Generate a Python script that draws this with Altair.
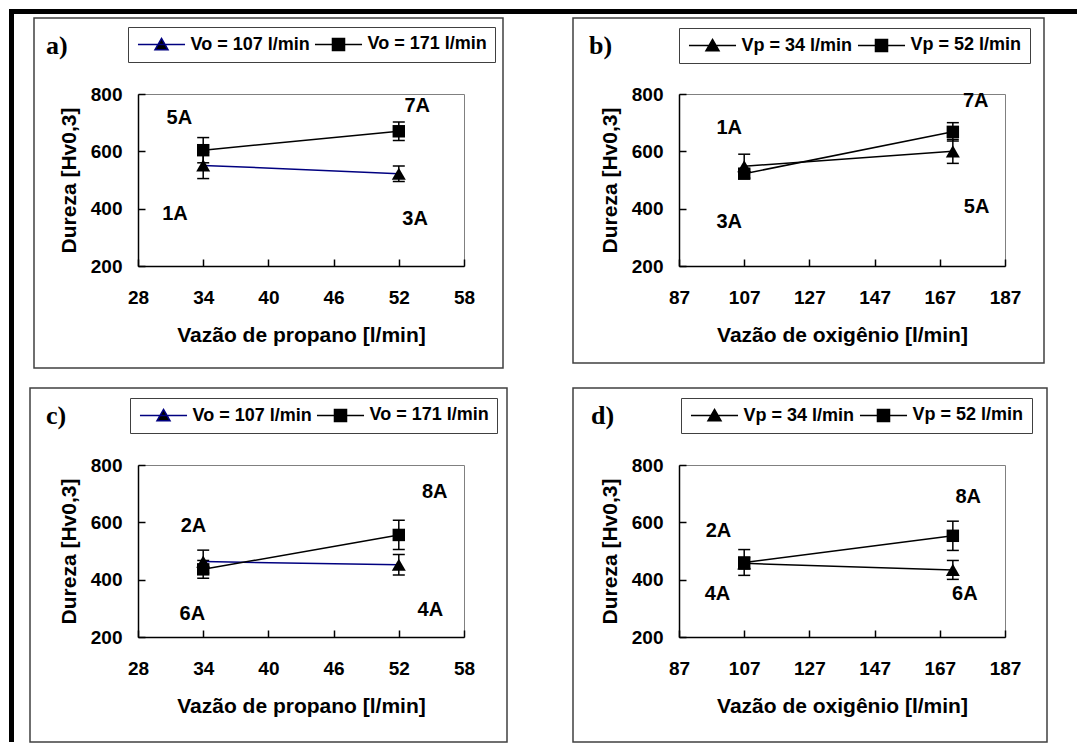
import altair as alt
import pandas as pd

FONT = "Liberation Sans"
SERIF = "Liberation Serif"
W, H = 326, 172

# ---------------- data ----------------
propane_ticks = [28, 34, 40, 46, 52, 58]
oxygen_ticks = [87, 107, 127, 147, 167, 187]
y_ticks = [200, 400, 600, 800]

vo_names = ["Vo = 107 l/min", "Vo = 171 l/min"]
vo_colors = ["#000080", "#000000"]
vp_names = ["Vp = 34 l/min", "Vp = 52 l/min"]
vp_colors = ["#000000", "#000000"]

# panel a
a_x = [34, 52]
a_s1 = [551, 522]
a_s1_err = [46, 27]
a_s2 = [604, 670]
a_s2_err = [44, 32]
a_lab = ["5A", "7A", "1A", "3A"]
a_lab_x = [31.8, 53.7, 31.4, 53.5]
a_lab_y = [716, 757, 382, 364]

# panel b
b_x = [107, 171]
b_s1 = [548, 600]
b_s1_err = [42, 42]
b_s2 = [522, 668]
b_s2_err = [15, 32]
b_lab = ["1A", "3A", "7A", "5A"]
b_lab_x = [102.4, 102.4, 178.0, 178.3]
b_lab_y = [683, 355, 774, 405]

# panel c
c_x = [34, 52]
c_s1 = [463, 452]
c_s1_err = [40, 36]
c_s2 = [436, 556]
c_s2_err = [31, 51]
c_lab = ["2A", "6A", "8A", "4A"]
c_lab_x = [33.1, 33.0, 55.3, 54.9]
c_lab_y = [587, 281, 705, 295]

# panel d
d_x = [107, 171]
d_s1 = [457, 434]
d_s1_err = [20, 33]
d_s2 = [460, 553]
d_s2_err = [45, 51]
d_lab = ["2A", "4A", "8A", "6A"]
d_lab_x = [99.1, 98.8, 175.7, 174.7]
d_lab_y = [569, 349, 689, 349]

TRI_LEG = "M-3.36,0H3.36M0,-0.86L0.93,0.75L-0.93,0.75Z"
SQ_LEG = "M-3.36,0H3.36M-0.86,-0.86H0.86V0.86H-0.86Z"


def panel(tag, tagpos, xs, s1, e1, s2, e2, names, colors, labs, lx, ly,
          xdomain, xticks, xtitle, outer, legpos, frame=False):
    n = len(xs)
    pts = pd.DataFrame({
        "x": xs + xs,
        "y": s1 + s2,
        "lo": [v - e for v, e in zip(s1, e1)] + [v - e for v, e in zip(s2, e2)],
        "hi": [v + e for v, e in zip(s1, e1)] + [v + e for v, e in zip(s2, e2)],
        "series": [names[0]] * n + [names[1]] * n,
        "kind": ["tri"] * n + ["sq"] * n,
    })
    one = pd.DataFrame({"k": [0]})
    xsc = alt.Scale(domain=xdomain, nice=False, zero=False)
    ysc = alt.Scale(domain=[200, 800], nice=False, zero=False)

    x_main = alt.Axis(orient="bottom", values=xticks, ticks=False, tickSize=0,
                      domainColor="black", domainWidth=1.5, grid=False,
                      labelFont=FONT, labelFontSize=19, labelFontWeight="bold",
                      labelColor="black", labelPadding=22, labelFlush=False,
                      labelOverlap=False,
                      title=xtitle, titleFont=FONT, titleFontSize=21,
                      titleFontWeight="bold", titleColor="black", titlePadding=17)
    y_main = alt.Axis(orient="left", values=y_ticks, ticks=False, tickSize=0,
                      domainColor="black", domainWidth=1.5, grid=False,
                      labelFont=FONT, labelFontSize=19, labelFontWeight="bold",
                      labelColor="black", labelPadding=16, labelOverlap=False,
                      title="Dureza [Hv0,3]", titleFont=FONT, titleFontSize=21,
                      titleFontWeight="bold", titleColor="black", titlePadding=11)
    x_tick = alt.Axis(orient="bottom", values=xticks, domain=False, labels=False,
                      ticks=True, tickSize=7, tickWidth=1.5, tickColor="black",
                      offset=-7, title=None, grid=False)
    y_tick = alt.Axis(orient="left", values=y_ticks, domain=False, labels=False,
                      ticks=True, tickSize=7, tickWidth=1.5, tickColor="black",
                      offset=-7, title=None, grid=False)

    layers = []
    if frame:
        layers.append(alt.Chart(one).mark_rect(color="black").encode(
            x=alt.value(-129), x2=alt.value(939), y=alt.value(-85), y2=alt.value(-80)))
        layers.append(alt.Chart(one).mark_rect(color="black").encode(
            x=alt.value(-129), x2=alt.value(-124), y=alt.value(-85), y2=alt.value(648)))
    ox0, ox1, oy0, oy1 = outer
    layers.append(alt.Chart(one).mark_rect(fill="white", fillOpacity=0, stroke="#404040",
                                           strokeWidth=1.5).encode(
        x=alt.value(ox0), x2=alt.value(ox1), y=alt.value(oy0), y2=alt.value(oy1)))
    layers.append(alt.Chart(one).mark_text(font=SERIF, fontSize=26, fontWeight="bold",
                                           align="left", baseline="alphabetic",
                                           color="black").encode(
        x=alt.value(tagpos[0]), y=alt.value(tagpos[1]), text=alt.value(tag)))

    X = lambda f="x:Q", ax=None: alt.X(f, scale=xsc, axis=ax)
    for nm, col in zip(names, colors):
        layers.append(alt.Chart(pts).transform_filter(alt.datum.series == nm).mark_line(
            strokeWidth=1.5, color=col).encode(
            x=X(), y=alt.Y("y:Q", scale=ysc, axis=None)))
    layers.append(alt.Chart(pts).mark_rule(strokeWidth=1.5, color="black").encode(
        x=X("x:Q", x_tick), y=alt.Y("lo:Q", scale=ysc, axis=y_tick), y2="hi:Q"))
    for fld in ["lo", "hi"]:
        layers.append(alt.Chart(pts).mark_tick(orient="horizontal", size=12, thickness=1.5,
                                               color="black", opacity=1).encode(
            x=X(), y=alt.Y(f"{fld}:Q", scale=ysc, axis=None)))
    layers.append(alt.Chart(pts).transform_filter(alt.datum.kind == "tri").mark_point(
        shape="triangle-up", filled=True, size=196, color="black", opacity=1).encode(
        x=X(), y=alt.Y("y:Q", scale=ysc, axis=None)))
    layers.append(alt.Chart(pts).transform_filter(alt.datum.kind == "sq").mark_point(
        shape="square", filled=True, size=155, color="black", opacity=1).encode(
        x=X(), y=alt.Y("y:Q", scale=ysc, axis=None)))
    labdf = pd.DataFrame({"x": lx, "y": ly, "t": labs})
    layers.append(alt.Chart(labdf).mark_text(font=FONT, fontSize=20, fontWeight="bold",
                                             color="black").encode(
        x=X("x:Q", x_main), y=alt.Y("y:Q", scale=ysc, axis=y_main), text="t:N"))

    leg = alt.Legend(orient="none", legendX=legpos[0], legendY=legpos[1],
                     direction="horizontal", title=None,
                     labelFont=FONT, labelFontSize=18, labelFontWeight="bold",
                     labelColor="black", symbolSize=196, symbolStrokeWidth=1.5,
                     symbolOffset=16.5, labelOffset=20, columnPadding=1, padding=8,
                     strokeColor="#404040")
    layers.append(alt.Chart(pts).transform_filter(alt.datum.x == xs[0]).mark_point(
        filled=True, fill="black", size=0, opacity=1).encode(
        x=X(), y=alt.Y("y:Q", scale=ysc, axis=None),
        stroke=alt.Stroke("series:N", scale=alt.Scale(domain=names, range=colors), legend=leg),
        shape=alt.Shape("series:N", scale=alt.Scale(domain=names, range=[TRI_LEG, SQ_LEG]),
                        legend=leg)))

    return alt.layer(*layers).resolve_axis(x="independent", y="independent").properties(
        width=W, height=H)


pa = panel("a)", (-92, -40), a_x, a_s1, a_s1_err, a_s2, a_s2_err, vo_names, vo_colors,
           a_lab, a_lab_x, a_lab_y, [28, 58], propane_ticks, "Vazão de propano [l/min]",
           (-104, 365, -76, 274), (-10, -67), frame=True)
pb = panel("b)", (-90, -40), b_x, b_s1, b_s1_err, b_s2, b_s2_err, vp_names, vp_colors,
           b_lab, b_lab_x, b_lab_y, [87, 187], oxygen_ticks, "Vazão de oxigênio [l/min]",
           (-106, 365, -76, 269), (0, -66))
pc = panel("c)", (-92, -41), c_x, c_s1, c_s1_err, c_s2, c_s2_err, vo_names, vo_colors,
           c_lab, c_lab_x, c_lab_y, [28, 58], propane_ticks, "Vazão de propano [l/min]",
           (-108, 369, -77, 277), (-8, -67))
pd_ = panel("d)", (-88, -41), d_x, d_s1, d_s1_err, d_s2, d_s2_err, vp_names, vp_colors,
            d_lab, d_lab_x, d_lab_y, [87, 187], oxygen_ticks, "Vazão de oxigênio [l/min]",
            (-106, 368, -77, 277), (2, -67))

chart = alt.concat(pa, pb, pc, pd_, columns=2, spacing={"row": 199, "column": 215},
                   bounds="flush").resolve_scale(
    stroke="independent", shape="independent").resolve_legend(
    stroke="independent", shape="independent").properties(padding=0).configure_view(
    stroke="#808080", strokeWidth=1)

chart.save("out.html", embed_options={"renderer": "svg", "actions": False})
